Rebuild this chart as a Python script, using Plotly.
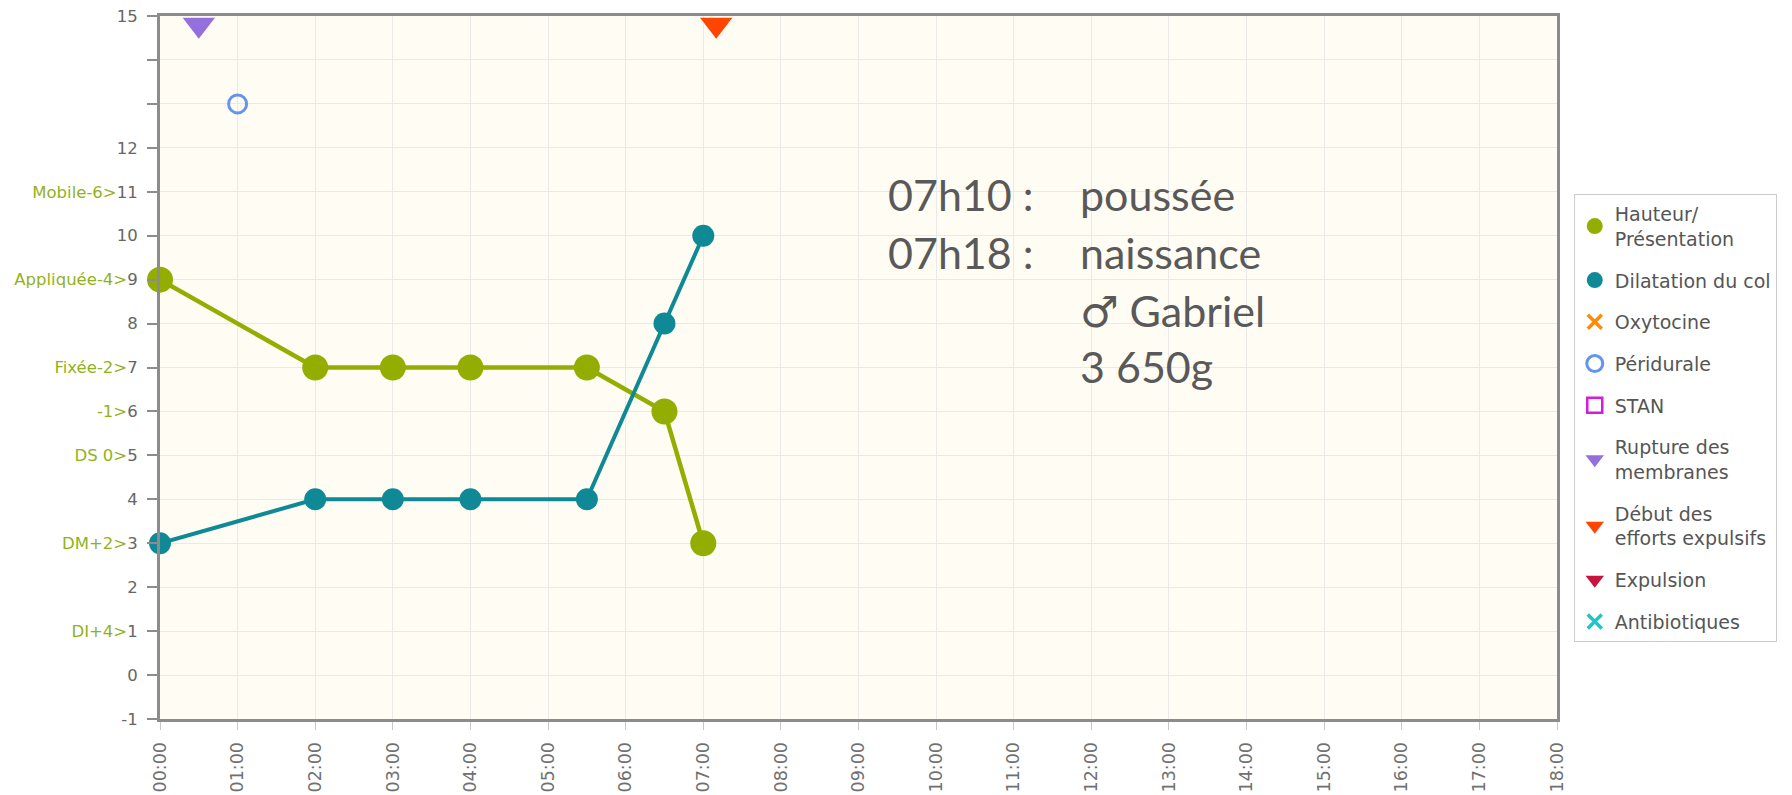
import plotly.graph_objects as go

# ---------------- data ----------------
hauteur_times = ["00:00", "02:00", "03:00", "04:00", "05:30", "06:30", "07:00"]
hauteur_values = [9, 7, 7, 7, 7, 6, 3]

dilatation_times = ["00:00", "02:00", "03:00", "04:00", "05:30", "06:30", "07:00"]
dilatation_values = [3, 4, 4, 4, 4, 8, 10]

peridurale_times = ["01:00"]
peridurale_values = [13]

rupture_times = ["00:30"]
rupture_values = [14.8]

efforts_times = ["07:10"]
efforts_values = [14.8]

x_tick_labels = ["%02d:00" % h for h in range(0, 19)]
y_tick_values = list(range(-1, 16))
y_tick_prefixes = {11: "Mobile-6", 9: "Appliquée-4", 7: "Fixée-2", 6: "-1",
                   5: "DS 0", 3: "DM+2", 1: "DI+4"}
y_hidden = [13, 14]

note_left = ["07h10 :", "07h18 :"]
note_right = ["poussée", "naissance", "♂ Gabriel", "3 650g"]


def hours(t):
    h, m = t.split(":")
    return int(h) + int(m) / 60.0


GREEN = "#93ad00"
TEAL = "#0f8996"
PREFIX = "#92b21a"

fig = go.Figure()

hx = [hours(t) for t in hauteur_times]
dx = [hours(t) for t in dilatation_times]

# connecting lines (not in legend)
fig.add_trace(go.Scatter(x=hx, y=hauteur_values, mode="lines", showlegend=False,
                         line=dict(color=GREEN, width=4.5), hoverinfo="skip", cliponaxis=False))
fig.add_trace(go.Scatter(x=dx, y=dilatation_values, mode="lines", showlegend=False,
                         line=dict(color=TEAL, width=4), hoverinfo="skip", cliponaxis=False))

fig.add_trace(go.Scatter(
    x=hx, y=hauteur_values,
    mode="markers", name="Hauteur/<br>Présentation",
    marker=dict(color=GREEN, size=26, symbol="circle"),
    legendgroup="g1", cliponaxis=False))

fig.add_trace(go.Scatter(
    x=dx, y=dilatation_values,
    mode="markers", name="Dilatation du col",
    marker=dict(color=TEAL, size=22, symbol="circle"),
    legendgroup="g2", cliponaxis=False))

fig.add_trace(go.Scatter(
    x=[None], y=[None], mode="markers", name="Oxytocine",
    marker=dict(color="#ff8c00", size=14, symbol="x-thin", line=dict(color="#ff8c00", width=3.5)),
    legendgroup="g3"))

fig.add_trace(go.Scatter(
    x=[hours(t) for t in peridurale_times], y=peridurale_values,
    mode="markers", name="Péridurale",
    marker=dict(color="#6495ed", size=18, symbol="circle-open",
                line=dict(color="#6495ed", width=3)),
    legendgroup="g4"))

fig.add_trace(go.Scatter(
    x=[None], y=[None], mode="markers", name="STAN",
    marker=dict(size=15, symbol="square-open", color="#d41ddb",
                line=dict(color="#d41ddb", width=2.5)),
    legendgroup="g5"))

fig.add_trace(go.Scatter(
    x=[hours(t) for t in rupture_times], y=rupture_values,
    mode="markers", name="Rupture des<br>membranes",
    marker=dict(color="#9370db", size=28, symbol="triangle-down"),
    legendgroup="g6"))

fig.add_trace(go.Scatter(
    x=[hours(t) for t in efforts_times], y=efforts_values,
    mode="markers", name="Début des<br>efforts expulsifs",
    marker=dict(color="#ff4500", size=28, symbol="triangle-down"),
    legendgroup="g7"))

fig.add_trace(go.Scatter(
    x=[None], y=[None], mode="markers", name="Expulsion",
    marker=dict(color="#c8143c", size=16, symbol="triangle-down"),
    legendgroup="g8"))

fig.add_trace(go.Scatter(
    x=[None], y=[None], mode="markers", name="Antibiotiques",
    marker=dict(color="#1cc7c7", size=14, symbol="x-thin", line=dict(color="#1cc7c7", width=3.5)),
    legendgroup="g9"))

# y tick labels
ytext = []
for v in y_tick_values:
    if v in y_hidden:
        ytext.append("")
    elif v in y_tick_prefixes:
        ytext.append("<span style='color:%s'>%s&gt;</span>%d" % (PREFIX, y_tick_prefixes[v], v))
    else:
        ytext.append(str(v))

# annotations
left_y = [10.93, 9.62]
right_y = [10.93, 9.62, 8.30, 7.03]
for txt, yy in zip(note_left, left_y):
    fig.add_annotation(x=9.35, y=yy, text=txt, showarrow=False, xanchor="left", yanchor="middle",
                       font=dict(family="Lato, Noto Sans, DejaVu Sans", size=43, color="#595959"))
for txt, yy in zip(note_right, right_y):
    fig.add_annotation(x=11.83, y=yy, text=txt, showarrow=False, xanchor="left", yanchor="middle",
                       font=dict(family="Lato, Noto Sans, DejaVu Sans", size=43, color="#595959"))

fig.update_layout(
    width=1792, height=795,
    margin=dict(l=152, r=243, t=8, b=84),
    paper_bgcolor="white",
    plot_bgcolor="#fffcf4",
    showlegend=True,
    legend=dict(
        x=1.012, y=0.747, xanchor="left", yanchor="top",
        bgcolor="white", bordercolor="#cccccc", borderwidth=1,
        font=dict(family="DejaVu Sans", size=19, color="#555555"),
        traceorder="grouped", tracegroupgap=14,
        itemsizing="trace",
    ),
    xaxis=dict(
        range=[0, 18],
        automargin=False,
        tickmode="array",
        tickvals=list(range(0, 19)),
        ticktext=x_tick_labels,
        tickangle=-90,
        ticks="outside", ticklen=8, tickcolor="#c8c8c8", tickwidth=1,
        ticklabelstandoff=5,
        ticklabeloverflow="allow",
        tickfont=dict(family="DejaVu Sans", size=17.5, color="#707070"),
        showgrid=True, gridcolor="#e9e9e9", gridwidth=1,
        showline=True, linecolor="#8c8c8c", linewidth=3, mirror=True,
        zeroline=False,
    ),
    yaxis=dict(
        range=[-1, 15],
        automargin=False,
        tickmode="array",
        tickvals=y_tick_values,
        ticktext=ytext,
        ticks="outside", ticklen=10, tickcolor="#8c8c8c", tickwidth=1.5,
        ticklabelstandoff=6,
        ticklabeloverflow="allow",
        tickfont=dict(family="DejaVu Sans", size=16.5, color="#666666"),
        showgrid=True, gridcolor="#e9e9e9", gridwidth=1,
        showline=True, linecolor="#8c8c8c", linewidth=3, mirror=True,
        zeroline=False,
    ),
)

fig.write_html("out.html")
